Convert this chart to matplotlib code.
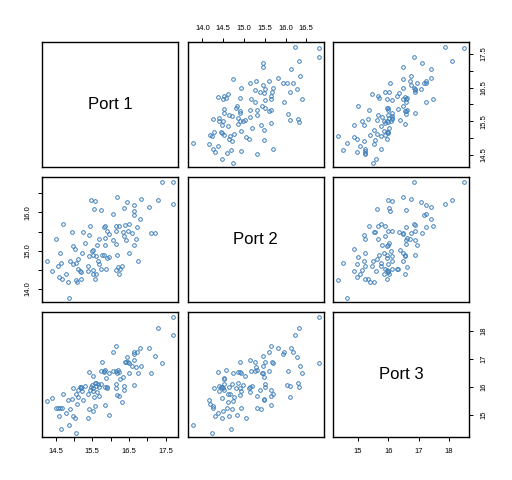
import numpy as np
import matplotlib.pyplot as plt
from matplotlib.ticker import FixedLocator, FixedFormatter

plt.rcParams['font.family'] = ['Liberation Sans', 'DejaVu Sans']

# values, matched by Port 1 rank
port1 = [14.27, 14.39, 14.52, 14.57, 14.60, 14.61, 14.64, 14.67, 14.69, 14.77,
         14.83, 14.86, 14.90, 14.95, 14.97, 14.97, 15.02, 15.06, 15.06, 15.08,
         15.10, 15.11, 15.16, 15.18, 15.19, 15.21, 15.25, 15.30, 15.37, 15.39,
         15.40, 15.41, 15.44, 15.47, 15.50, 15.51, 15.52, 15.52, 15.53, 15.54,
         15.56, 15.58, 15.60, 15.61, 15.64, 15.65, 15.68, 15.69, 15.73, 15.74,
         15.76, 15.81, 15.82, 15.84, 15.85, 15.85, 15.87, 15.89, 15.89, 15.95,
         15.95, 16.06, 16.07, 16.14, 16.15, 16.15, 16.15, 16.17, 16.18, 16.20,
         16.23, 16.24, 16.26, 16.31, 16.35, 16.37, 16.37, 16.38, 16.43, 16.45,
         16.46, 16.50, 16.50, 16.59, 16.64, 16.65, 16.65, 16.65, 16.69, 16.71,
         16.75, 16.79, 16.84, 17.05, 17.10, 17.22, 17.30, 17.41, 17.69, 17.71]
port2 = [14.74, 14.48, 15.31, 14.60, 14.30, 14.93, 14.69, 14.25, 15.69, 14.38,
         14.17, 13.77, 14.72, 15.48, 15.11, 14.65, 15.04, 14.67, 14.22, 14.19,
         14.51, 14.77, 14.47, 14.27, 14.45, 14.93, 15.48, 15.19, 14.61, 14.48,
         15.40, 14.85, 15.65, 16.33, 14.98, 14.90, 14.49, 14.40, 15.03, 16.10,
         14.25, 16.30, 14.86, 14.39, 15.14, 14.72, 15.31, 14.64, 16.07, 14.51,
         14.90, 15.61, 14.90, 15.65, 15.32, 15.14, 14.51, 15.51, 14.81, 15.43,
         14.83, 15.27, 15.96, 15.51, 15.64, 15.18, 14.49, 16.40, 14.90, 14.56,
         14.38, 15.64, 14.52, 14.61, 15.49, 16.11, 15.39, 15.67, 15.27, 16.28,
         15.51, 15.69, 14.93, 15.46, 15.14, 16.19, 16.04, 15.94, 15.30, 15.61,
         14.74, 15.82, 16.35, 16.14, 15.46, 15.46, 16.32, 16.80, 16.80, 16.22]
port3 = [15.50, 15.61, 15.25, 15.25, 14.96, 15.25, 14.50, 15.25, 15.75, 15.08,
         15.54, 14.64, 15.21, 15.57, 15.96, 14.96, 14.89, 15.75, 14.36, 15.39,
         15.90, 15.64, 16.00, 15.95, 16.00, 15.86, 15.54, 16.04, 15.75, 14.89,
         15.21, 16.54, 15.90, 15.98, 16.08, 15.96, 15.14, 15.86, 16.39, 15.64,
         15.32, 16.14, 16.12, 16.04, 15.80, 16.11, 15.68, 16.00, 16.57, 16.11,
         16.89, 16.57, 16.54, 15.36, 16.61, 16.00, 16.32, 15.98, 15.95, 16.50,
         15.00, 16.57, 17.25, 16.11, 17.46, 16.57, 15.96, 16.50, 15.69, 16.61,
         16.54, 15.68, 16.29, 15.46, 16.36, 16.04, 15.89, 16.89, 16.89, 17.07,
         16.89, 16.85, 16.50, 16.75, 16.96, 17.25, 16.07, 17.19, 16.71, 17.23,
         16.50, 17.39, 16.75, 17.39, 16.50, 17.12, 18.11, 16.86, 18.50, 17.86]

names = ['Port 1', 'Port 2', 'Port 3']
data = [port1, port2, port3]

# tick positions and labels per variable
ticks = [[14.5, 15.0, 15.5, 16.0, 16.5, 17.0, 17.5],
         [14.0, 14.5, 15.0, 15.5, 16.0, 16.5],
         [15, 16, 17, 18]]
labels_full = [['14.5', '', '15.5', '', '16.5', '', '17.5'],
               ['14.0', '14.5', '15.0', '15.5', '16.0', '16.5'],
               ['15', '16', '17', '18']]
labels_left = ['14.0', '', '15.0', '', '16.0', '']

pt_color = '#3f7fb9'

fig = plt.figure(figsize=(5.12, 4.8), dpi=100)
W, H = 512.0, 480.0
lefts = [42.3, 187.8, 333.3]
tops = [42.3, 177.3, 312.3]
pw, ph = 136.0, 125.0


def lims(v):
    lo, hi = min(v), max(v)
    r = hi - lo
    return lo - 0.04 * r, hi + 0.04 * r


for i in range(3):
    for j in range(3):
        ax = fig.add_axes([lefts[j] / W, 1 - (tops[i] + ph) / H, pw / W, ph / H])
        ax.set_xlim(lims(data[j]))
        ax.set_ylim(lims(data[i]))
        for s in ax.spines.values():
            s.set_linewidth(1.0)
        ax.tick_params(which='both', length=3.2, width=0.7, labelsize=5.5, pad=4.5,
                       bottom=False, top=False, left=False, right=False,
                       labelbottom=False, labeltop=False, labelleft=False, labelright=False)
        if i == j:
            ax.text(0.5, 0.5, names[i], transform=ax.transAxes, ha='center', va='center',
                    fontsize=12)
        else:
            ax.plot(data[j], data[i], 'o', ms=2.6, mfc='none', mec=pt_color, mew=0.7)

        # R pairs style alternating axes
        if i == 0 and j == 1:
            ax.xaxis.set_major_locator(FixedLocator(ticks[1]))
            ax.xaxis.set_major_formatter(FixedFormatter(labels_full[1]))
            ax.tick_params(top=True, labeltop=True)
        if i == 2 and j in (0, 2):
            ax.xaxis.set_major_locator(FixedLocator(ticks[j]))
            ax.xaxis.set_major_formatter(FixedFormatter(labels_full[j]))
            ax.tick_params(bottom=True, labelbottom=True)
        if i == 1 and j == 0:
            ax.yaxis.set_major_locator(FixedLocator(ticks[1]))
            ax.yaxis.set_major_formatter(FixedFormatter(labels_left))
            ax.tick_params(left=True, labelleft=True)
            for t in ax.get_yticklabels():
                t.set_rotation(90)
                t.set_va('center')
        if j == 2 and i in (0, 2):
            ax.yaxis.set_major_locator(FixedLocator(ticks[i]))
            ax.yaxis.set_major_formatter(FixedFormatter(labels_full[i]))
            ax.tick_params(right=True, labelright=True)
            for t in ax.get_yticklabels():
                t.set_rotation(90)
                t.set_va('center')

fig.savefig('out.png', dpi=100)
